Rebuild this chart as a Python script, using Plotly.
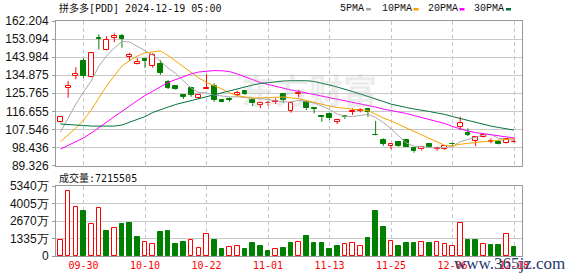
import plotly.graph_objects as go

# ---------------- data ----------------
dates = [
    "2024-09-25", "2024-09-26", "2024-09-27", "2024-09-30",
    "2024-10-01", "2024-10-02", "2024-10-03", "2024-10-04", "2024-10-07", "2024-10-08",
    "2024-10-09", "2024-10-10", "2024-10-11", "2024-10-14", "2024-10-15", "2024-10-16",
    "2024-10-17", "2024-10-18", "2024-10-21", "2024-10-22", "2024-10-23", "2024-10-24",
    "2024-10-25", "2024-10-28", "2024-10-29", "2024-10-30", "2024-10-31",
    "2024-11-01", "2024-11-04", "2024-11-05", "2024-11-06", "2024-11-07", "2024-11-08",
    "2024-11-11", "2024-11-12", "2024-11-13", "2024-11-14", "2024-11-15", "2024-11-18",
    "2024-11-19", "2024-11-20", "2024-11-21", "2024-11-22", "2024-11-25", "2024-11-26",
    "2024-11-27", "2024-11-29",
    "2024-12-02", "2024-12-03", "2024-12-04", "2024-12-05", "2024-12-06", "2024-12-09",
    "2024-12-10", "2024-12-11", "2024-12-12", "2024-12-13", "2024-12-16", "2024-12-17",
    "2024-12-18",
]

opens = [111.1, 128.3, 134.6, 142.2, 134.1, 153.6, 147.4, 153.8, 154.6, 144.2,
         140.4, 142.9, 139.65, 140.4, 131.3, 129.4, 124.9, 128.25, 123.5, 127.9,
         129.4, 122.35, 122.9, 124.9, 127.0, 122.35, 119.8, 120.6, 121.5, 125.4,
         116.95, 125.4, 121.5, 118.3, 113.9, 115.3, 111.4, 113.9, 116.3, 116.95,
         117.65, 104.8, 102.2, 99.15, 101.0, 102.2, 98.3, 97.5, 100.2, 97.8,
         97.8, 100.3, 108.9, 105.85, 101.8, 103.85, 101.3, 101.2, 100.5, 101.0]
highs = [114.2, 131.9, 138.85, 143.4, 146.2, 155.5, 154.6, 156.0, 155.6, 146.2,
         143.4, 143.4, 145.9, 142.5, 132.4, 129.6, 125.1, 129.1, 125.3, 135.3,
         130.8, 122.9, 123.7, 127.0, 127.4, 123.2, 121.5, 121.85, 123.2, 125.7,
         121.5, 127.4, 122.35, 118.4, 114.0, 115.95, 112.8, 114.8, 118.2, 118.2,
         117.8, 111.8, 103.0, 100.4, 101.2, 102.4, 98.8, 99.15, 100.3, 98.8,
         99.3, 100.8, 113.9, 108.1, 103.8, 105.55, 103.0, 102.2, 102.8, 103.5]
lows = [110.8, 123.5, 132.8, 133.6, 133.8, 147.9, 147.2, 151.5, 148.7, 142.0,
        140.2, 138.6, 138.65, 135.0, 127.9, 127.4, 122.9, 124.0, 123.2, 127.8,
        121.5, 121.2, 121.5, 124.0, 124.9, 119.3, 118.2, 119.5, 120.3, 121.0,
        115.95, 123.7, 117.3, 115.65, 111.4, 112.3, 110.25, 112.8, 114.8, 116.15,
        113.9, 104.5, 99.2, 97.5, 98.8, 98.6, 95.8, 96.8, 98.3, 96.8,
        97.1, 99.15, 107.2, 104.2, 99.15, 103.5, 100.5, 100.0, 100.3, 100.8]
closes = [113.9, 129.4, 135.5, 134.6, 145.9, 153.1, 152.6, 154.5, 153.1, 145.05,
          141.5, 142.0, 145.05, 136.1, 128.6, 127.75, 124.0, 124.9, 124.9, 128.25,
          122.35, 121.5, 122.5, 125.7, 125.4, 120.7, 121.0, 121.0, 121.85, 122.35,
          121.0, 125.7, 118.2, 118.0, 113.7, 113.1, 112.3, 113.7, 116.55, 117.3,
          116.45, 104.6, 100.2, 100.2, 99.15, 98.8, 96.6, 98.8, 98.5, 98.3,
          99.15, 100.0, 110.6, 104.85, 103.5, 104.7, 101.8, 100.2, 102.5, 101.3]

ma5 = [106.2, 113.3, 120.3, 126.4, 131.9, 139.5, 144.55, 148.6, 151.9, 151.6,
       149.3, 147.1, 145.05, 142.0, 138.5, 135.7, 132.2, 128.4, 126.1, 125.9,
       124.9, 124.4, 123.9, 124.0, 123.5, 123.2, 123.0, 122.7, 122.0, 121.4,
       121.4, 122.2, 121.6, 120.8, 119.3, 117.6, 115.3, 114.2, 114.0, 114.6,
       115.1, 113.6, 111.0, 107.8, 104.2, 100.7, 99.0, 98.7, 98.4, 98.2,
       98.3, 98.9, 101.3, 102.6, 103.6, 104.7, 105.0, 103.0, 102.5, 102.1]
ma10 = [101.3, 104.7, 108.2, 112.3, 117.3, 123.4, 129.4, 134.5, 139.5, 142.3,
        144.55, 146.1, 146.7, 147.1, 144.8, 142.0, 139.0, 136.2, 133.45, 131.2,
        129.7, 127.9, 125.9, 124.6, 123.9, 123.4, 123.4, 123.6, 123.9, 123.9,
        123.4, 123.1, 122.1, 121.1, 120.1, 119.3, 118.6, 118.1, 117.6, 117.3,
        117.06, 115.0, 113.3, 111.8, 110.0, 108.2, 106.5, 104.7, 102.9, 101.2,
        99.45, 99.15, 100.05, 100.5, 100.9, 101.5, 102.0, 102.2, 102.6, 102.9]
ma20 = [97.6, 99.4, 101.2, 103.2, 105.7, 108.5, 111.3, 114.0, 116.6, 119.3,
        122.1, 124.6, 126.9, 129.2, 131.2, 132.7, 134.2, 135.5, 136.5, 137.0,
        137.2, 137.1, 136.7, 135.5, 133.96, 132.4, 131.2, 130.2, 129.2, 128.2,
        127.4, 126.7, 125.9, 125.1, 124.4, 123.6, 122.9, 122.1, 121.3, 120.6,
        119.8, 118.8, 117.8, 117.1, 116.3, 115.55, 114.5, 113.5, 112.5, 111.5,
        110.5, 109.0, 107.7, 106.7, 105.95, 105.45, 104.95, 104.45, 103.7, 103.2]
ma30 = [110.25, 110.1, 109.75, 109.5, 109.2, 109.2, 109.2, 109.2, 109.75, 111.3,
        112.5, 114.0, 116.05, 117.56, 118.8, 120.1, 121.1, 122.1, 123.0, 123.97,
        125.1, 126.1, 127.15, 128.15, 129.2, 129.9, 130.7, 131.2, 131.7, 131.94,
        132.1, 132.1, 132.1, 131.7, 130.9, 129.9, 128.9, 127.9, 126.6, 125.4,
        124.0, 122.8, 121.6, 120.3, 119.3, 118.6, 117.8, 117.3, 116.55, 115.8,
        115.1, 114.0, 113.0, 112.0, 111.0, 110.0, 109.2, 108.5, 107.7, 107.2]

# volume in 万股
volumes = [1221, 4960, 3716, 3434, 2442, 3640, 1908, 2113, 2442, 2518,
           1450, 1068, 893, 1831, 1908, 916, 1068, 1198, 588, 1679,
           1221, 534, 664, 740, 534, 992, 763, 382, 511, 610,
           992, 1068, 1526, 1015, 1015, 534, 786, 916, 992, 763,
           1373, 3434, 2213, 1145, 763, 992, 992, 1068, 992, 1068,
           916, 763, 2518, 1221, 1221, 916, 839, 839, 1679, 721.55]
# 1 = red (up day), 0 = green (down day)
vol_up = [1, 1, 1, 0, 1, 1, 0, 1, 0, 0,
          0, 1, 1, 0, 0, 0, 0, 1, 1, 1,
          0, 0, 1, 1, 0, 0, 0, 0, 1, 0,
          0, 1, 0, 0, 0, 0, 0, 1, 1, 1,
          0, 0, 0, 1, 0, 0, 0, 1, 0, 1,
          1, 1, 1, 0, 0, 1, 0, 0, 1, 0]

price_ticks = [89.326, 98.436, 107.546, 116.655, 125.765, 134.875, 143.984, 153.094, 162.204]
vol_ticks = [0, 1335, 2670, 4005, 5340]
vol_tick_text = ["0", "1335万", "2670万", "4005万", "5340万"]
tick_dates = ["2024-09-30", "2024-10-10", "2024-10-22", "2024-11-01",
              "2024-11-13", "2024-11-25", "2024-12-06", "2024-12-18"]
tick_text = ["09-30", "10-10", "10-22", "11-01", "11-13", "11-25", "12-06", "12-18"]

title_text = "拼多多[PDD] 2024-12-19 05:00"
vol_title = "成交量:7215505"
legend_items = [("5PMA", "#a8a8a8"), ("10PMA", "#f5a300"), ("20PMA", "#ff00ff"), ("30PMA", "#00733a")]

# ---------------- layout geometry ----------------
W, H = 578, 276
ML, MR, MT, MB = 56, 56, 21, 20
PW, PH = W - ML - MR, H - MT - MB
PRICE_BOTTOM_PX = 165.5
VOL_TOP_PX = 186

def pxx(x):
    return (x - ML) / PW

def pxy(y):
    return (H - MB - y) / PH

RED = "#ff0000"
GREEN = "#008000"

idx = list(range(len(dates)))
tick_idx = [dates.index(d) for d in tick_dates]

fig = go.Figure()

def wick_xy(sel):
    xs, ys = [], []
    for i in sel:
        top = max(opens[i], closes[i])
        bot = min(opens[i], closes[i])
        xs += [i, i, None, i, i, None]
        ys += [highs[i], top, None, bot, lows[i], None]
    return xs, ys

up = [i for i in idx if closes[i] >= opens[i]]
dn = [i for i in idx if closes[i] < opens[i]]

for sel, col in ((up, RED), (dn, GREEN)):
    xs, ys = wick_xy(sel)
    fig.add_trace(go.Scatter(x=xs, y=ys, mode="lines", line=dict(color=col, width=1),
                             hoverinfo="skip", xaxis="x", yaxis="y"))

MINB = 0.35
fig.add_trace(go.Bar(
    x=up, base=[min(opens[i], closes[i]) for i in up],
    y=[max(abs(closes[i] - opens[i]), MINB) for i in up],
    width=0.62, marker=dict(color="white", line=dict(color=RED, width=1)),
    xaxis="x", yaxis="y"))
fig.add_trace(go.Bar(
    x=dn, base=[min(opens[i], closes[i]) for i in dn],
    y=[max(abs(closes[i] - opens[i]), MINB) for i in dn],
    width=0.62, marker=dict(color=GREEN, line=dict(color=GREEN, width=1)),
    xaxis="x", yaxis="y"))

for vals, (name, col) in zip((ma5, ma10, ma20, ma30), legend_items):
    fig.add_trace(go.Scatter(x=idx, y=vals, mode="lines", name=name,
                             line=dict(color=col, width=1), xaxis="x", yaxis="y"))

vu = [i for i in idx if vol_up[i] == 1]
vd = [i for i in idx if vol_up[i] == 0]
fig.add_trace(go.Bar(x=vu, y=[volumes[i] for i in vu], width=0.6,
                     marker=dict(color="white", line=dict(color=RED, width=1)),
                     xaxis="x2", yaxis="y2"))
fig.add_trace(go.Bar(x=vd, y=[volumes[i] for i in vd], width=0.6,
                     marker=dict(color=GREEN, line=dict(color=GREEN, width=1)),
                     xaxis="x2", yaxis="y2"))

x_range = [-0.58, 60.04]
grid = "#c8c8c8"
frame = "#9a9a9a"
tickfont = dict(family="Liberation Sans, Arial, sans-serif", size=12, color="#111111")

common_x = dict(range=x_range, tickmode="array", tickvals=tick_idx, showgrid=True,
                gridcolor=grid, griddash="4px,3px", gridwidth=1, showline=True,
                mirror=True, linecolor=frame, linewidth=1, zeroline=False, ticks="",
                automargin=False)

fig.update_layout(
    width=W, height=H, margin=dict(l=ML, r=MR, t=MT, b=MB, pad=0, autoexpand=False),
    paper_bgcolor="white", plot_bgcolor="white", showlegend=False,
    barmode="overlay", bargap=0,
    xaxis=dict(domain=[0, 1], anchor="y", showticklabels=False, **common_x),
    xaxis2=dict(domain=[0, 1], anchor="y2", ticktext=tick_text, showticklabels=True,
                tickfont=dict(family="DejaVu Sans Mono, monospace", size=10, color=RED),
                ticklabelstandoff=0, **common_x),
    yaxis=dict(domain=[pxy(PRICE_BOTTOM_PX), 1], anchor="x", automargin=False,
               range=[price_ticks[0], price_ticks[-1]], tickmode="array",
               tickvals=price_ticks, ticktext=["%.3f" % v for v in price_ticks],
               showgrid=True, gridcolor=grid, gridwidth=1, zeroline=False,
               showline=True, mirror=True, linecolor=frame, linewidth=1,
               ticks="outside", ticklen=3, tickcolor=frame, tickfont=tickfont,
               ticklabelstandoff=1),
    yaxis2=dict(domain=[0, pxy(VOL_TOP_PX)], anchor="x2", automargin=False,
                range=[0, vol_ticks[-1]],
                tickmode="array", tickvals=vol_ticks, ticktext=vol_tick_text,
                showgrid=True, gridcolor=grid, gridwidth=1, zeroline=False,
                showline=True, mirror=True, linecolor=frame, linewidth=1,
                ticks="outside", ticklen=3, tickcolor=frame, tickfont=tickfont,
                ticklabelstandoff=1),
)

mono_cjk = "DejaVu Sans Mono, Noto Sans CJK SC, monospace"
ann = []
ann.append(dict(text=title_text, x=pxx(57), y=pxy(8), xref="paper", yref="paper",
                xanchor="left", yanchor="middle", showarrow=False,
                font=dict(family=mono_cjk, size=10, color="#111111")))
ann.append(dict(text=vol_title, x=pxx(57), y=pxy(178), xref="paper", yref="paper",
                xanchor="left", yanchor="middle", showarrow=False,
                font=dict(family=mono_cjk, size=10, color="#111111")))

legend_x = [338, 380, 425.5, 471.5]
square_x = [366, 413.5, 459.5, 506]
shapes = []
for (name, col), lx, sx in zip(legend_items, legend_x, square_x):
    ann.append(dict(text=name, x=pxx(lx), y=pxy(9), xref="paper", yref="paper",
                    xanchor="left", yanchor="middle", showarrow=False,
                    font=dict(family="Liberation Mono, monospace", size=10, color="#111111")))
    shapes.append(dict(type="rect", xref="paper", yref="paper",
                       x0=pxx(sx), x1=pxx(sx + 5), y0=pxy(10.5), y1=pxy(8),
                       fillcolor=col, line=dict(width=0)))

ann.append(dict(text="<b>东方财富</b>", x=pxx(309), y=pxy(89), xref="paper", yref="paper",
                xanchor="center", yanchor="middle", showarrow=False,
                font=dict(family="Noto Sans CJK SC", size=34, color="rgba(170,170,170,0.22)")))
ann.append(dict(text="www.365jz.com", x=pxx(452), y=pxy(263), xref="paper", yref="paper",
                xanchor="left", yanchor="middle", showarrow=False,
                font=dict(family="Liberation Serif, serif", size=17, color="#1f3a70")))

fig.update_layout(annotations=ann, shapes=shapes)

fig.write_html("out.html", config={"displayModeBar": False})
